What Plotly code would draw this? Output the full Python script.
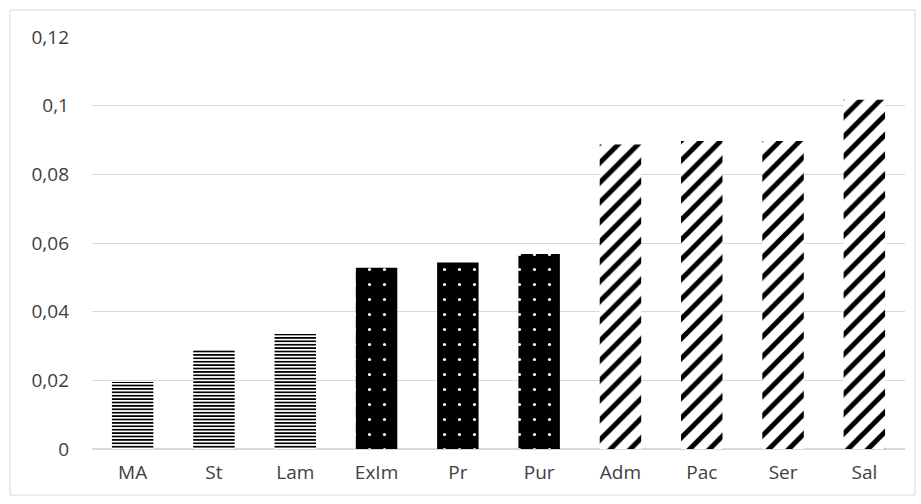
import plotly.graph_objects as go

categories = ["MA", "St", "Lam", "ExIm", "Pr", "Pur", "Adm", "Pac", "Ser", "Sal"]
values = [0.0195, 0.029, 0.0335, 0.0528, 0.0543, 0.0568, 0.0887, 0.0897, 0.0897, 0.1017]

groups = [
    # (start, end, pattern shape, background, foreground, size, solidity)
    (0, 3, "-", "white", "black", 3.4, 0.5),
    (3, 6, ".", "black", "white", 15, 0.035),
    (6, 10, "/", "white", "black", 14, 0.36),
]

fig = go.Figure()
for s, e, shp, bg, fg, sz, so in groups:
    fig.add_trace(go.Bar(
        x=categories[s:e], y=values[s:e],
        marker=dict(
            color=bg,
            line=dict(width=0),
            pattern=dict(shape=shp, fgcolor=fg, fgopacity=1, size=sz, solidity=so,
                         fillmode="overlay"),
        ),
        width=0.51,
        hoverinfo="skip",
    ))

fig.update_layout(
    width=921, height=504,
    margin=dict(l=92, r=16, t=37, b=55),
    paper_bgcolor="white", plot_bgcolor="white",
    separators=", ",
    barmode="overlay",
    font=dict(family="Open Sans", size=19, color="#404040"),
    showlegend=False,
    shapes=[dict(type="rect", xref="paper", yref="paper",
                 x0=-0.1009, x1=1.0123, y0=-0.1117, y1=1.0655,
                 line=dict(color="#d9d9d9", width=1), fillcolor="rgba(0,0,0,0)", layer="below")],
)
fig.update_yaxes(range=[0, 0.12], dtick=0.02, tickformat="~g", gridcolor="#d9d9d9",
                 zeroline=True, zerolinecolor="#d9d9d9", showline=False, ticks="",
                 ticklabelstandoff=22, automargin=False)
fig.update_xaxes(categoryorder="array", categoryarray=categories, automargin=False,
                 showgrid=False, showline=False, ticks="", ticklabelstandoff=10)

fig.write_html("out.html", config={"displayModeBar": False},
               post_script="document.body.style.margin='0';")
